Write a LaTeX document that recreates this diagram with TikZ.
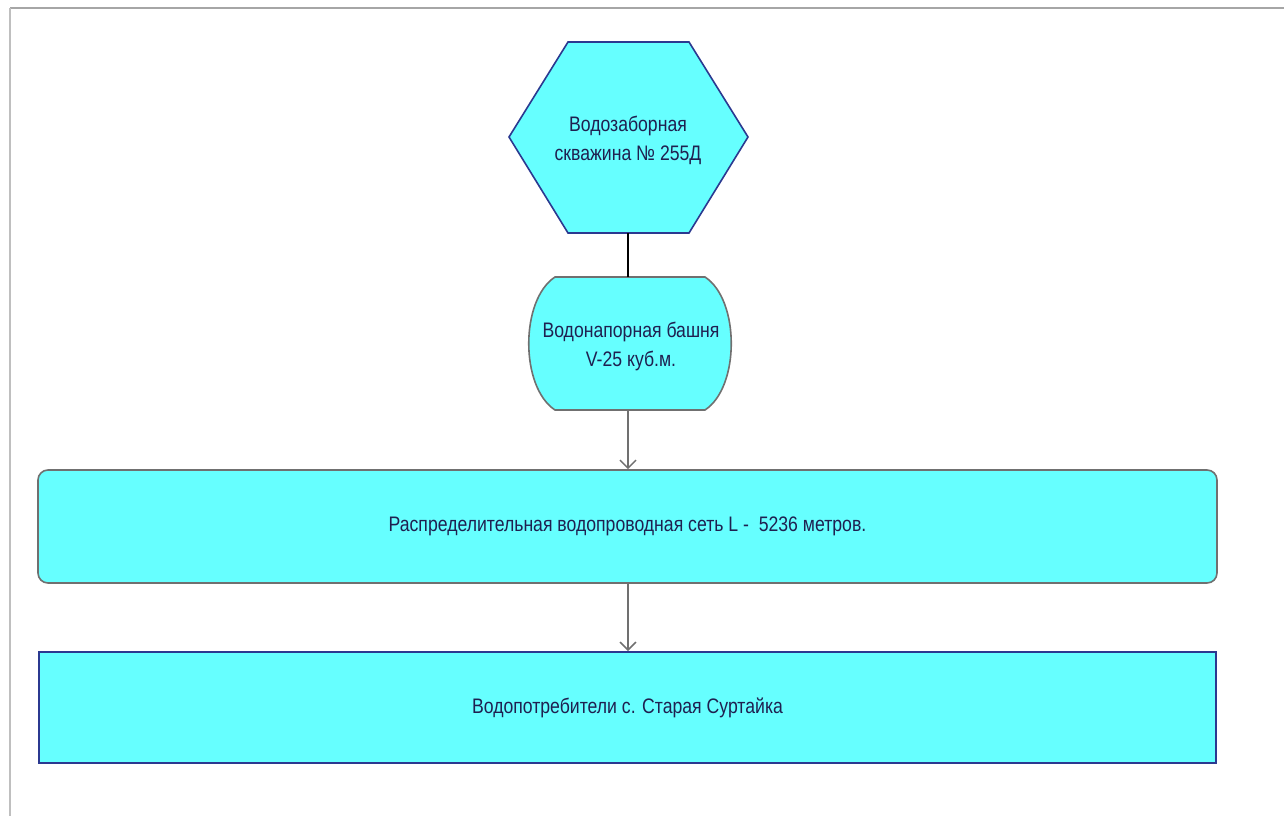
\documentclass[tikz,border=0pt]{standalone}
\usepackage{fontspec}
\setmainfont{Liberation Sans}[FakeStretch=0.84]
\usetikzlibrary{arrows.meta}
\definecolor{cyanfill}{HTML}{66FFFF}
\definecolor{navy}{HTML}{2B3990}
\definecolor{edgegray}{HTML}{707070}
\definecolor{txt}{HTML}{1F2050}
\tikzset{
  lbl/.style={text=txt, font=\fontsize{21}{29}\selectfont, align=center, inner sep=0pt},
  conn/.style={draw=edgegray, line width=1.5pt, -{Straight Barb[length=8pt,width=16pt,line width=1.5pt]}},
}
\begin{document}
\begin{tikzpicture}[x=1pt,y=-1pt]
\useasboundingbox (0,0) rectangle (1284,816);
\fill[white] (0,0) rectangle (1284,816);
% frame lines
\draw[color=gray!70, line width=2pt] (10,8) -- (1284,8);
\draw[color=gray!50, line width=2pt] (10,8) -- (10,816);
% hexagon
\draw[fill=cyanfill, draw=navy, line width=1.6pt]
  (568,42) -- (689,42) -- (748,137) -- (689,233) -- (568,233) -- (509,137) -- cycle;
\node[lbl] (well) at (628,140) {Водозаборная\\скважина № 255Д};
\coordinate (wellS) at (628,233);
% tower
\draw[fill=cyanfill, draw=edgegray, line width=1.6pt]
  (555,277) -- (705,277) .. controls (740,300) and (740,387) .. (705,410)
  -- (555,410) .. controls (520,387) and (520,300) .. (555,277) -- cycle;
\node[lbl] (tower) at (631,346) {Водонапорная башня\\V-25 куб.м.};
\coordinate (towerN) at (628,277);
\coordinate (towerS) at (628,410);
% network
\node[draw=edgegray, fill=cyanfill, line width=1.6pt, rounded corners=10pt,
      minimum width=1179pt, minimum height=113pt, inner sep=0pt] (net) at (627.5,526.5) {};
\node[lbl] at (net.center) {Распределительная водопроводная сеть L -\ \ 5236 метров.};
% consumers
\node[draw=navy, fill=cyanfill, line width=1.8pt,
      minimum width=1177pt, minimum height=111pt, inner sep=0pt] (cons) at (627.5,707.5) {};
\node[lbl] at (cons.center) {Водопотребители с. Старая Суртайка};
% connectors
\draw[black, line width=1.5pt] (wellS) -- (towerN);
\draw[conn] (towerS) -- (net.north -| towerS);
\draw[conn] (net.south -| towerS) -- (cons.north -| towerS);
\end{tikzpicture}
\end{document}
